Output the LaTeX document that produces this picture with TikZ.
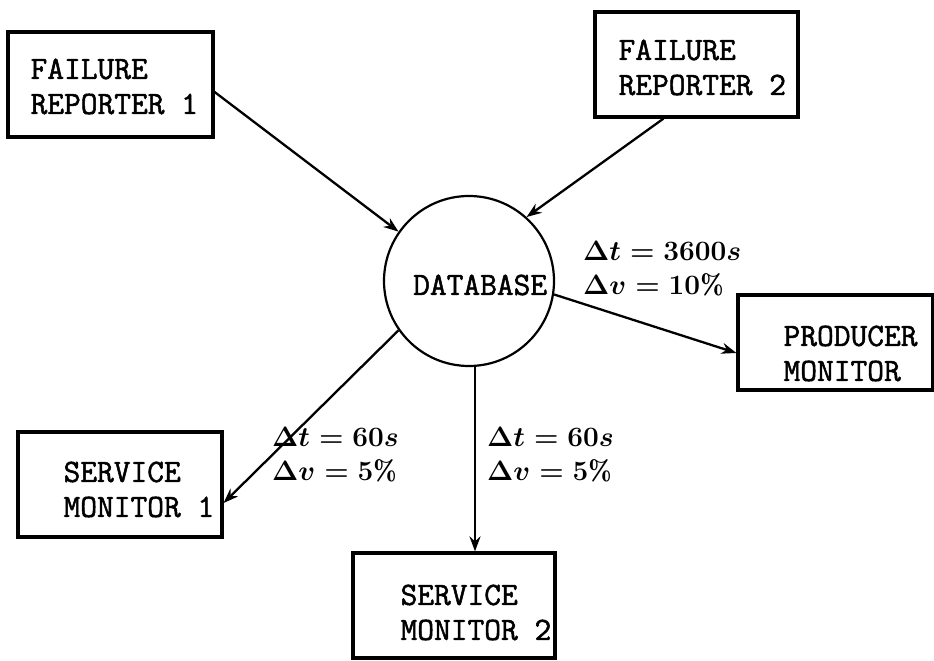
\RequirePackage{fix-cm}
\documentclass[tikz,border=0pt]{standalone}
\usepackage{fontspec}
\newfontfamily\heavytt{Latin Modern Mono}[FakeBold=1.6]
\usetikzlibrary{arrows.meta,calc}
\tikzset{
  box/.style={draw, line width=3.2pt, rectangle, inner sep=0pt},
  boxtext/.style={anchor=west, inner sep=0pt, align=left, font=\heavytt\fontsize{32.5}{35}\selectfont},
  dbnode/.style={draw, circle, line width=2.2pt, inner sep=0pt, minimum size=170pt},
  conn/.style={line width=2.3pt, -{Stealth[length=15pt,width=11pt,inset=5pt]}},
  mlabel/.style={anchor=west, inner sep=0pt, align=left, font=\fontsize{28}{34}\selectfont\boldmath},
}
\begin{document}
\begin{tikzpicture}[x=1pt,y=1pt]
\useasboundingbox (0,0) rectangle (934,661);
% boxes
\node[box, minimum width=205pt, minimum height=105pt] (fr1) at (110.5,576.5) {};
\node[boxtext] (fr1t) at ([xshift=24pt,yshift=-2pt]fr1.west) {FAILURE\\REPORTER 1};
\node[box, minimum width=203pt, minimum height=105pt] (fr2) at (696.5,596.5) {};
\node[boxtext] (fr2t) at ([xshift=25pt,yshift=-3pt]fr2.west) {FAILURE\\REPORTER 2};
\node[box, minimum width=195pt, minimum height=95pt] (pm) at (835.5,318.5) {};
\node[boxtext] (pmt) at ([xshift=47pt,yshift=-11pt]pm.west) {PRODUCER\\MONITOR};
\node[box, minimum width=204pt, minimum height=105pt] (sm1) at (120,176.5) {};
\node[boxtext] (sm1t) at ([xshift=47pt,yshift=-5pt]sm1.west) {SERVICE\\MONITOR 1};
\node[box, minimum width=202pt, minimum height=105pt] (sm2) at (454,55.5) {};
\node[boxtext] (sm2t) at ([xshift=49pt,yshift=-7pt]sm2.west) {SERVICE\\MONITOR 2};
% database
\node[dbnode] (db) at (469,380) {};
\node[boxtext] (dbt) at (413,376) {DATABASE};
% connectors
\draw[conn] ([yshift=-7.5pt]fr1.east) -- (db.145);
\draw[conn] ([xshift=-33pt]fr2.south) -- (db.48);
\draw[conn] (db.-9) -- ([yshift=-10.5pt]pm.west);
\draw[conn] (db.215) -- ([yshift=-18.5pt]sm1.east);
\coordinate (dbb) at ($(db.south)+(6,0)$);
\draw[conn] (dbb) -- (dbb |- sm2.north);
% labels
\node[mlabel] (l1) at (583,392) {$\Delta t = 3600s$\\$\Delta v = 10\%$};
\node[mlabel] (l2) at (272,206) {$\Delta t = 60s$\\$\Delta v = 5\%$};
\node[mlabel] (l3) at (487,206) {$\Delta t = 60s$\\$\Delta v = 5\%$};
\end{tikzpicture}
\end{document}
